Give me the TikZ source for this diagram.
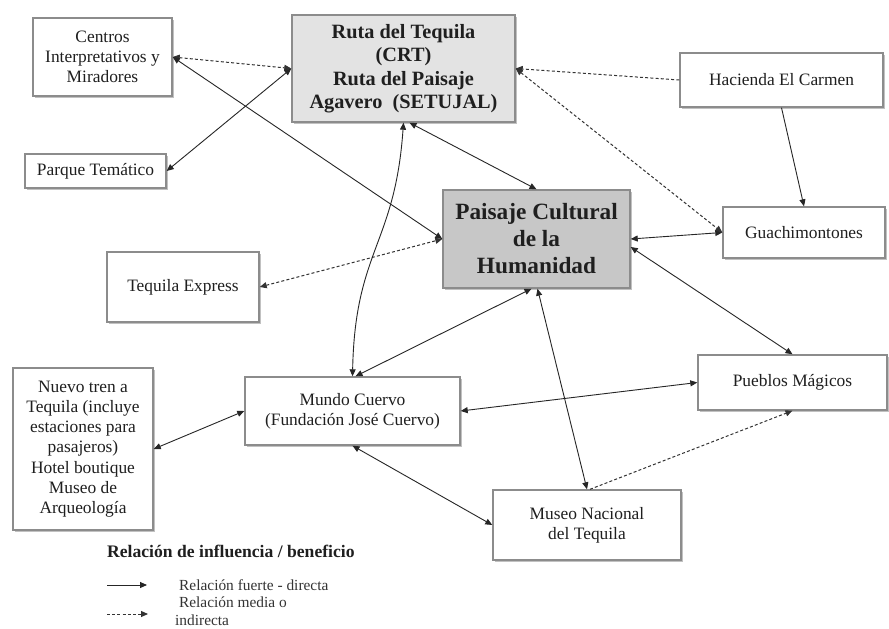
\documentclass[tikz,border=0pt]{standalone}
\usepackage{fontspec}
\setmainfont{Liberation Serif}
\usetikzlibrary{arrows.meta,shadows}
\begin{document}
\begin{tikzpicture}[x=1pt,y=-1pt,
  box/.style={draw=black!45, line width=1.4pt, fill=white, align=center, inner sep=2pt,
    text=black!88, font=\fontsize{17.4}{20.2}\selectfont,
    drop shadow={shadow xshift=1.8pt,shadow yshift=-1.8pt,fill=black!30,opacity=0.8}},
  keybox/.style={box, fill=black!11, font=\bfseries\fontsize{20.3}{23.5}\selectfont},
  mainbox/.style={box, fill=black!22, font=\bfseries\fontsize{23.3}{27}\selectfont},
  strong/.style={draw=black!85, line width=0.9pt, {Triangle[length=7pt,width=6pt]}-{Triangle[length=7pt,width=6pt]}},
  strongone/.style={draw=black!85, line width=0.9pt, -{Triangle[length=7pt,width=6pt]}},
  weak/.style={draw=black!80, line width=1pt, dash pattern=on 3pt off 2.2pt, {Triangle[length=7pt,width=6pt]}-{Triangle[length=7pt,width=6pt]}},
  weakone/.style={draw=black!80, line width=1pt, dash pattern=on 3pt off 2.2pt, -{Triangle[length=7pt,width=6pt]}},
  legtext/.style={text=black!80, font=\fontsize{15.4}{18}\selectfont, inner sep=0pt}
]
\useasboundingbox[fill=white] (0,0) rectangle (889,629);

% boxes
\node[box, minimum width=139, minimum height=78] (cen) at (102.5,57) {Centros\\Interpretativos y\\Miradores};
\node[keybox, minimum width=223, minimum height=107] (ruta) at (403.5,68.5) {Ruta del Tequila\\(CRT)\\Ruta del Paisaje\\Agavero\ \ (SETUJAL)};
\node[box, minimum width=141, minimum height=34] (par) at (95.5,171) {Parque Temático};
\node[box, minimum width=152, minimum height=70] (tex) at (183,287) {Tequila Express};
\node[mainbox, minimum width=187, minimum height=98] (pai) at (536.5,239) {Paisaje Cultural\\de la\\Humanidad};
\node[box, minimum width=203, minimum height=54] (hac) at (781.5,80) {Hacienda El Carmen};
\node[box, minimum width=162, minimum height=51] (gua) at (804,232.5) {Guachimontones};
\node[box, minimum width=140, minimum height=162] (nue) at (83,449) {Nuevo tren a\\Tequila (incluye\\estaciones para\\pasajeros)\\Hotel boutique\\Museo de\\Arqueología};
\node[box, minimum width=215, minimum height=68] (mun) at (352.5,411) {Mundo Cuervo\\(Fundación José Cuervo)};
\node[box, minimum width=189, minimum height=55] (pue) at (792.5,382.5) {Pueblos Mágicos};
\node[box, minimum width=188, minimum height=70] (mus) at (587,525) {Museo Nacional\\del Tequila};

% connectors
\draw[weak] (cen.east) -- (ruta.west);
\draw[strong] (par.east) -- (ruta.west);
\draw[strong] (cen.east) -- (pai.west);
\draw[weak] (tex.east) -- (pai.west);
\draw[strong] ([xshift=6pt]ruta.south) -- (pai.north);
\draw[strong] (ruta.south) .. controls (395,245) and (355,250) .. (mun.north);
\draw[strong] ([xshift=-5pt]pai.south) -- ([xshift=3pt]mun.north);
\draw[strong] ([xshift=1pt]pai.south) -- (mus.north);
\draw[strong] (pai.east) -- (gua.west);
\draw[weak] (ruta.east) -- (gua.west);
\draw[weakone] (hac.west) -- (ruta.east);
\draw[strongone] (hac.south) -- (gua.north);
\draw[strong] ([yshift=-8pt]pai.east) -- (pue.north);
\draw[strong] (mun.east) -- (pue.west);
\draw[weakone] ([xshift=3pt]mus.north) -- (pue.south);
\draw[strong] (mun.south) -- (mus.west);
\draw[strong] (nue.east) -- (mun.west);

% legend
\node[anchor=west, inner sep=0pt, text=black!88, font=\bfseries\fontsize{17.6}{20}\selectfont] (legtitle) at (107,551) {Relación de influencia / beneficio};
\coordinate (la1) at (107,585);
\coordinate (lb1) at (147,585);
\coordinate (la2) at (107,614);
\coordinate (lb2) at (148,614);
\draw[strongone] (la1) -- (lb1);
\draw[weakone] (la2) -- (lb2);
\node[legtext, anchor=west] (leg1) at (179,585) {Relación fuerte - directa};
\node[legtext, anchor=north west, align=left] (leg2) at (175,597) {\ Relación media o\\indirecta};
\end{tikzpicture}
\end{document}
